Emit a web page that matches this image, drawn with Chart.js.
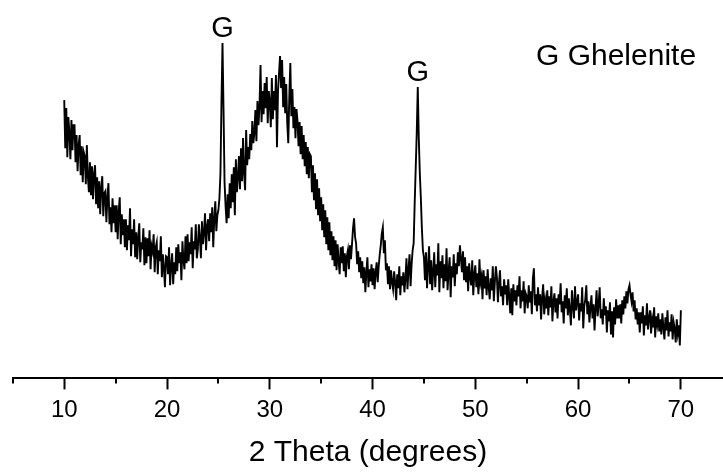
<!DOCTYPE html>
<html><head><meta charset="utf-8">
<script src="https://cdn.jsdelivr.net/npm/chart.js@4.4.0/dist/chart.umd.min.js"></script>
<style>html,body{margin:0;padding:0;background:#fff;} canvas{display:block;}</style>
</head><body>
<canvas id="c" width="723" height="473"></canvas>
<script>
const thetaStart = 10.0;
const thetaStep = 0.1;
// intensity (a.u.), one value per 0.1 degree from 10.0 to 70.0
const intensity = [
278,230,270,221,261,246,219,258,228,253,
253,216,243,207,233,243,203,232,196,226,
222,194,233,202,186,216,183,212,179,204,
213,174,201,170,197,164,191,202,162,185,
187,156,181,195,154,171,146,180,155,173,
146,173,139,167,181,134,164,143,159,131,
159,128,153,138,170,122,149,134,159,121,
146,119,141,155,116,136,129,150,113,141,
115,140,122,148,109,132,127,144,106,131,
136,104,128,117,142,101,124,110,91,122,
121,104,131,93,112,125,94,116,104,131,
107,134,115,126,98,137,118,109,142,115,
144,117,136,124,151,110,137,129,154,120,
129,154,140,120,157,134,146,165,128,152,
159,137,165,146,171,131,160,177,147,163,
168,180,205,276,335,268,196,172,155,184,
160,195,170,204,176,211,163,219,186,201,
222,189,230,197,240,205,188,248,213,231,
219,244,228,257,235,245,268,237,277,253,
272,313,256,287,264,295,270,301,255,287,
277,251,300,259,287,268,303,231,287,305,
322,290,318,271,301,265,294,255,235,282,
315,262,289,250,271,240,269,257,232,256,
224,252,219,243,212,236,204,231,200,224,
222,186,213,178,205,169,199,163,190,157,
181,148,174,141,168,134,161,128,156,123,
147,118,142,112,138,108,134,117,104,131,
115,132,107,125,101,122,128,109,133,119,
134,150,160,141,135,114,127,106,121,100,
117,95,111,86,106,121,91,109,97,114,
93,110,89,106,116,96,112,124,133,145,
151,125,138,108,115,94,112,89,108,96,
89,107,96,78,104,90,112,83,102,93,
106,86,100,120,89,109,124,92,114,128,
135,175,210,245,291,240,205,180,150,128,
121,98,126,90,112,132,94,118,88,107,
126,91,114,103,135,86,117,100,123,90,
114,97,130,88,107,121,81,112,101,124,
92,115,104,126,112,133,120,106,127,98,
121,96,112,87,115,101,93,118,83,104,
113,91,105,84,119,96,102,79,108,90,
102,83,109,91,79,100,88,112,77,96,
112,101,76,95,108,82,92,73,99,84,
93,73,99,82,65,90,63,94,77,88,
73,93,82,102,70,88,77,97,65,85,
82,70,93,76,87,64,100,110,73,84,
67,91,73,84,59,81,94,64,78,70,
88,63,82,71,92,57,77,85,66,80,
60,84,74,95,66,77,55,83,70,90,
63,80,69,53,88,73,60,92,68,76,
84,58,75,67,91,50,72,79,93,64,
77,56,71,83,60,74,48,70,88,62,
74,91,60,69,54,80,63,72,46,68,
57,76,44,67,41,71,54,79,60,73,
60,74,55,78,64,82,70,87,75,89,
93,84,77,86,67,78,59,70,54,66,
46,66,55,72,43,63,53,75,49,60,
68,45,59,51,71,41,62,54,65,47,
59,44,65,51,39,61,48,68,42,56,
47,64,39,56,50,36,59,45,53,33,
68
];
const xTickLabels = [10, 20, 30, 40, 50, 60, 70];
const peakTheta = [25.4, 44.4];
const peakLabel = ['G', 'G'];
const legendText = 'G Ghelenite';
const xTitle = '2 Theta (degrees)';

const FONT = '"Liberation Sans", Arial, Helvetica, sans-serif';
const points = intensity.map((v, i) => ({ x: Math.round((thetaStart + i * thetaStep) * 10) / 10, y: v }));

const decor = {
  id: 'decor',
  afterDraw(chart) {
    const ctx = chart.ctx, xs = chart.scales.x, ys = chart.scales.y;
    ctx.save();
    ctx.strokeStyle = '#000';
    ctx.lineWidth = 2;
    xs.ticks.forEach(t => {
      if (!xTickLabels.includes(t.value)) {
        const px = Math.round(xs.getPixelForValue(t.value));
        ctx.beginPath();
        ctx.moveTo(px, xs.top);
        ctx.lineTo(px, xs.top + 5);
        ctx.stroke();
      }
    });
    ctx.fillStyle = '#000';
    ctx.font = '29px ' + FONT;
    ctx.textAlign = 'center';
    ctx.textBaseline = 'alphabetic';
    peakTheta.forEach((th, k) => {
      const idx = Math.round((th - thetaStart) / thetaStep);
      let peak = -Infinity;
      for (let j = idx - 2; j <= idx + 2; j++) peak = Math.max(peak, intensity[j]);
      ctx.fillText(peakLabel[k], xs.getPixelForValue(th), ys.getPixelForValue(peak) - 6);
    });
    ctx.textAlign = 'left';
    ctx.font = '30px ' + FONT;
    ctx.fillText(legendText, chart.chartArea.right - 187, 65);
    ctx.restore();
  }
};

new Chart(document.getElementById('c'), {
  type: 'line',
  data: {
    datasets: [{
      data: points,
      borderColor: '#000',
      borderWidth: 1.9,
      pointRadius: 0,
      tension: 0,
      fill: false
    }]
  },
  options: {
    responsive: false,
    animation: false,
    devicePixelRatio: 1,
    layout: { padding: { left: 12.85, right: 0, top: 0, bottom: 2 } },
    plugins: { legend: { display: false }, tooltip: { enabled: false } },
    scales: {
      x: {
        type: 'linear',
        min: 5,
        max: 74.1,
        ticks: {
          stepSize: 5,
          includeBounds: false,
          autoSkip: false,
          maxRotation: 0,
          padding: 6.6,
          color: '#000',
          font: { family: FONT, size: 24 },
          callback: v => xTickLabels.includes(v) ? String(v) : ''
        },
        grid: {
          drawOnChartArea: false,
          drawTicks: true,
          tickLength: 11,
          tickWidth: 2,
          tickColor: c => (c.tick && xTickLabels.includes(c.tick.value)) ? '#000' : 'rgba(0,0,0,0)'
        },
        border: { display: true, color: '#000', width: 2 },
        title: {
          display: true,
          text: xTitle,
          color: '#000',
          font: { family: FONT, size: 30 },
          padding: { top: 3.6, bottom: 0 }
        }
      },
      y: { display: false, min: 0, max: 378 }
    }
  },
  plugins: [decor]
});
</script>
</body></html>
